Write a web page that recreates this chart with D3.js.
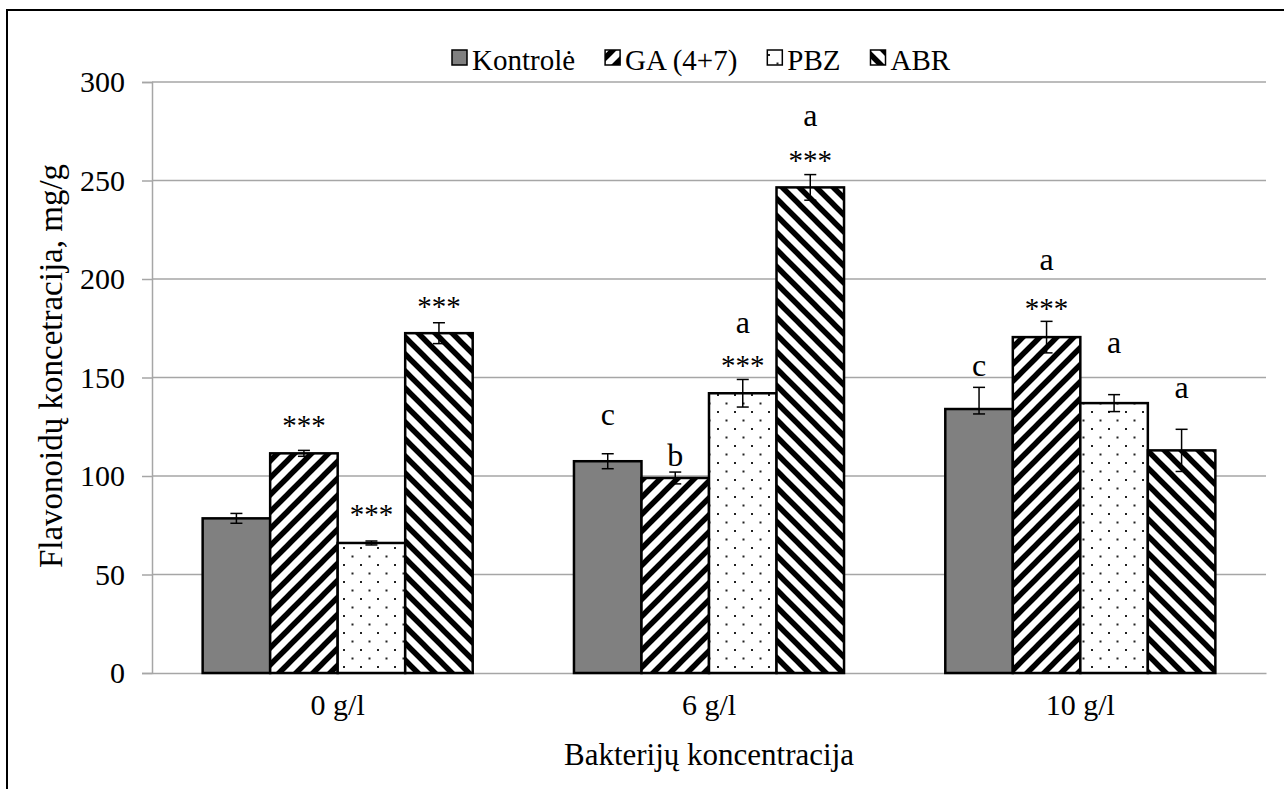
<!DOCTYPE html>
<html>
<head>
<meta charset="utf-8">
<script src="https://cdn.jsdelivr.net/npm/d3@7"></script>
<style>
  body { margin: 0; background: #fff; }
  text { font-family: "Liberation Serif", "Times New Roman", serif; fill: #000; }
</style>
</head>
<body>
<script>
// data
var categories = ["0 g/l", "6 g/l", "10 g/l"];
var series = ["Kontrolė", "GA (4+7)", "PBZ", "ABR"];

var kontrole = [78.5, 107.5, 134];
var ga = [111.5, 99, 170.5];
var pbz = [66, 142, 137];
var abr = [172.5, 246.5, 113];

var kontroleErrUp = [2.5, 3.8, 11], kontroleErrDown = [2.5, 3.8, 2.5];
var gaErr = [1.5, 3, 8];
var pbzErr = [1, 7, 4.3];
var abrErr = [5.3, 6.5, 10.7];

// significance marks and where they sit (value units)
var kontroleStars = ["", "", ""],       kontroleStarsAt = [null, null, null];
var gaStars = ["***", "", "***"],       gaStarsAt = [128.4, null, 187.8];
var pbzStars = ["***", "***", ""],      pbzStarsAt = [83.2, 158.9, null];
var abrStars = ["***", "***", ""],      abrStarsAt = [188.8, 263, null];

var kontroleLetters = ["", "c", "c"],   kontroleLettersAt = [null, 130, 154.8];
var gaLetters = ["", "b", "a"],         gaLettersAt = [null, 109, 208.6];
var pbzLetters = ["", "a", "a"],        pbzLettersAt = [null, 176.6, 166.5];
var abrLetters = ["", "a", "a"],        abrLettersAt = [null, 281.7, 143.7];

var yTicks = [0, 50, 100, 150, 200, 250, 300];

var w = 1284, h = 789;
var mLeft = 152, mRight = 1266, mTop = 82, mBottom = 673;

var values = [kontrole, ga, pbz, abr];
var errUp = [kontroleErrUp, gaErr, pbzErr, abrErr];
var errDown = [kontroleErrDown, gaErr, pbzErr, abrErr];
var stars = [kontroleStars, gaStars, pbzStars, abrStars];
var starsAt = [kontroleStarsAt, gaStarsAt, pbzStarsAt, abrStarsAt];
var letters = [kontroleLetters, gaLetters, pbzLetters, abrLetters];
var lettersAt = [kontroleLettersAt, gaLettersAt, pbzLettersAt, abrLettersAt];
var fills = ["#808080", "url(#pGA)", "url(#pPBZ)", "url(#pABR)"];

var bars = [];
series.forEach(function(s, si) {
  categories.forEach(function(c, ci) {
    bars.push({ s: s, si: si, c: c, v: values[si][ci],
      up: errUp[si][ci], down: errDown[si][ci],
      star: stars[si][ci], starAt: starsAt[si][ci],
      letter: letters[si][ci], letterAt: lettersAt[si][ci] });
  });
});

var svg = d3.select("body").append("svg")
  .attr("width", w).attr("height", h);

// patterns
var defs = svg.append("defs");
var P = 17;
function stripes(id, d) {
  var p = defs.append("pattern").attr("id", id)
    .attr("patternUnits", "userSpaceOnUse")
    .attr("width", P).attr("height", P);
  p.append("rect").attr("width", P).attr("height", P).attr("fill", "#fff");
  p.append("path").attr("d", d).attr("stroke", "#000")
    .attr("stroke-width", 5.5).attr("fill", "none");
}
stripes("pGA", "M-4,4L4,-4M0," + P + "L" + P + ",0M" + (P - 4) + "," + (P + 4) + "L" + (P + 4) + "," + (P - 4));
stripes("pABR", "M-4," + (P - 4) + "L4," + (P + 4) + "M0,0L" + P + "," + P + "M" + (P - 4) + ",-4L" + (P + 4) + ",4");
var pd = defs.append("pattern").attr("id", "pPBZ")
  .attr("patternUnits", "userSpaceOnUse")
  .attr("width", P).attr("height", P);
pd.append("rect").attr("width", P).attr("height", P).attr("fill", "#fff");
pd.append("rect").attr("x", 3).attr("y", 3).attr("width", 2).attr("height", 2).attr("fill", "#222");
pd.append("rect").attr("x", 11.5).attr("y", 11.5).attr("width", 2).attr("height", 2).attr("fill", "#222");

// outer frame
svg.append("rect")
  .attr("x", 7).attr("y", 10).attr("width", 1300).attr("height", 800)
  .attr("fill", "none").attr("stroke", "#000").attr("stroke-width", 2);

var x0 = d3.scaleBand().domain(categories).range([mLeft, mRight])
  .paddingInner(0.2727).paddingOuter(0.1364);
var x1 = d3.scaleBand().domain(series).range([0, x0.bandwidth()]);
var y = d3.scaleLinear().domain([0, 300]).range([mBottom, mTop]);

// gridlines
svg.append("g").selectAll("line")
  .data(yTicks.filter(function(t) { return t > 0; }))
  .enter().append("line")
  .attr("x1", mLeft).attr("x2", mRight)
  .attr("y1", function(d) { return y(d); })
  .attr("y2", function(d) { return y(d); })
  .attr("stroke", "#a6a6a6").attr("stroke-width", 1.5);

// y axis
var yAxis = d3.axisLeft(y).tickValues(yTicks).tickSize(10).tickPadding(17);
var gy = svg.append("g").attr("transform", "translate(" + mLeft + ",0)").call(yAxis);
gy.select(".domain").attr("stroke", "#a6a6a6").attr("stroke-width", 1.5);
gy.selectAll(".tick line").attr("stroke", "#a6a6a6").attr("stroke-width", 1.5);
gy.selectAll(".tick text").attr("font-size", "30px")
  .attr("font-family", "Liberation Serif").attr("fill", "#000");

// x axis
var xAxis = d3.axisBottom(x0).tickSize(0).tickPadding(21);
var gx = svg.append("g").attr("transform", "translate(0," + mBottom + ")").call(xAxis);
gx.select(".domain").attr("stroke", "#a6a6a6").attr("stroke-width", 1.5);
gx.selectAll(".tick text").attr("font-size", "30px")
  .attr("font-family", "Liberation Serif").attr("fill", "#000");

// bars
svg.append("g").selectAll("rect")
  .data(bars).enter().append("rect")
  .attr("x", function(d) { return x0(d.c) + x1(d.s); })
  .attr("y", function(d) { return y(d.v); })
  .attr("width", x1.bandwidth())
  .attr("height", function(d) { return y(0) - y(d.v); })
  .attr("fill", function(d) { return fills[d.si]; })
  .attr("stroke", "#000").attr("stroke-width", 2.5);

// error bars
var eb = svg.append("g").attr("stroke", "#000").attr("stroke-width", 1.5);
bars.forEach(function(d) {
  var cx = x0(d.c) + x1(d.s) + x1.bandwidth() / 2;
  var y1 = y(d.v + d.up), y2 = y(d.v - d.down);
  eb.append("line").attr("x1", cx).attr("x2", cx).attr("y1", y1).attr("y2", y2);
  eb.append("line").attr("x1", cx - 6).attr("x2", cx + 6).attr("y1", y1).attr("y2", y1);
  eb.append("line").attr("x1", cx - 6).attr("x2", cx + 6).attr("y1", y2).attr("y2", y2);
});

// stars and letters
svg.append("g").selectAll("text")
  .data(bars.filter(function(d) { return d.star; }))
  .enter().append("text")
  .attr("x", function(d) { return x0(d.c) + x1(d.s) + x1.bandwidth() / 2; })
  .attr("y", function(d) { return y(d.starAt) + 15; })
  .attr("text-anchor", "middle").attr("font-size", "29px")
  .attr("fill", "#333")
  .text(function(d) { return d.star; });

svg.append("g").selectAll("text")
  .data(bars.filter(function(d) { return d.letter; }))
  .enter().append("text")
  .attr("x", function(d) { return x0(d.c) + x1(d.s) + x1.bandwidth() / 2; })
  .attr("y", function(d) { return y(d.letterAt) + 8; })
  .attr("text-anchor", "middle").attr("font-size", "32px")
  .text(function(d) { return d.letter; });

// legend
var lg = svg.append("g");
var lx = 452;
series.forEach(function(s, i) {
  lg.append("rect").attr("x", lx).attr("y", 50).attr("width", 15).attr("height", 15)
    .attr("fill", fills[i]).attr("stroke", "#000").attr("stroke-width", 1.5);
  var t = lg.append("text").attr("x", lx + 20).attr("y", 70)
    .attr("font-size", "29px").text(s);
  lx = lx + 20 + t.node().getComputedTextLength() + 30;
});

// axis titles
svg.append("text")
  .attr("text-anchor", "middle")
  .attr("x", (mLeft + mRight) / 2)
  .attr("y", 765)
  .attr("font-size", "31px")
  .text("Bakterijų koncentracija");

svg.append("text")
  .attr("text-anchor", "middle")
  .attr("transform", "rotate(-90)")
  .attr("x", -366)
  .attr("y", 62)
  .attr("font-size", "33px")
  .text("Flavonoidų koncetracija, mg/g");
</script>
</body>
</html>
